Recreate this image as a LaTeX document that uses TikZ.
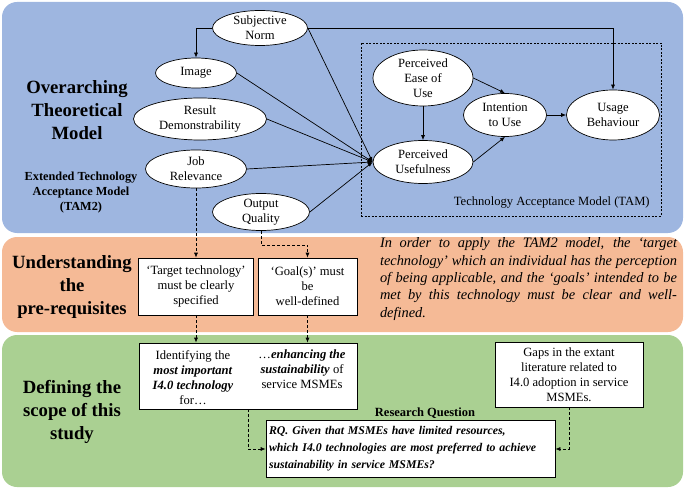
\documentclass[tikz,border=0pt]{standalone}
\usepackage{fontspec}
\setmainfont{Liberation Serif}
\usetikzlibrary{shapes.geometric,arrows.meta,positioning}
\definecolor{bandblue}{RGB}{158,182,224}
\definecolor{bandorange}{RGB}{245,186,150}
\definecolor{bandgreen}{RGB}{170,208,146}
\newcommand{\ellfont}{\fontsize{12.6}{15}\selectfont}
\newcommand{\headfont}{\bfseries\fontsize{18.7}{23}\selectfont}
\newcommand{\subheadfont}{\bfseries\fontsize{12.3}{15}\selectfont}
\newcommand{\parafont}{\itshape\fontsize{14.4}{17.3}\selectfont}
\newcommand{\rqfont}{\bfseries\itshape\fontsize{11.8}{17}\selectfont}
\tikzset
{
    tamnode/.style = {ellipse, draw=black, fill=white, align=center, inner xsep=0pt, inner ysep=-2pt, font=\ellfont},
    prebox/.style  = {rectangle, draw=black, fill=white, align=center, inner sep=0pt, font=\ellfont},
    heading/.style = {align=center, font=\headfont},
    link/.style    = {dash pattern=on 3pt off 2pt, ->}
}

\begin{document}
\begin{tikzpicture}[x=1pt, y=-1pt, line width=0.7pt, >={Latex[length=5pt,width=4pt]}]
\useasboundingbox (0,0) rectangle (685,489);

%% bands
\fill[bandblue, rounded corners=15pt]   (2,2)   rectangle (683,233);
\fill[bandorange, rounded corners=15pt] (2,237) rectangle (683,332);
\fill[bandgreen, rounded corners=15pt]  (2,335) rectangle (683,487);

%% headings
\node (hoverarch) [heading] 									at (77,110)     {Overarching\\Theoretical\\Model};
\node (htam2)     [align=center, font=\subheadfont] 			at (81,193)     {Extended Technology\\Acceptance Model\\(TAM2)};
\node (hpre)      [heading] 									at (72,287)     {Understanding\\the\\pre-requisites};
\node (hscope)    [heading] 									at (72,412)     {Defining the\\scope of this\\study};

%% TAM2
\node (tambox)	[draw=black, dash pattern=on 2pt off 1.5pt, line width=0.6pt, minimum width=300, minimum height=173] at (511,129.5) {};
\node (tamlabel) [font=\ellfont, anchor=south east]			at ([xshift=-8pt, yshift=4pt]tambox.south east) {Technology Acceptance Model (TAM)};

\node (sn)	[tamnode, minimum width=95, minimum height=35] 		at (260,28)     {Subjective\\Norm};
\node (img)	[tamnode, minimum width=81, minimum height=30] 		at (196,73)     {Image};
\node (rd)	[tamnode, minimum width=133, minimum height=42] 	at (200,119)    {Result\\Demonstrability};
\node (jr)	[tamnode, minimum width=101, minimum height=38] 	at (196,169)    {Job\\Relevance};
\node (oq)	[tamnode, minimum width=97, minimum height=37] 		at (261,212)    {Output\\Quality};
\node (peu)	[tamnode, minimum width=100, minimum height=56] 	at (423,78)     {Perceived\\Ease of\\Use};
\node (pu)	[tamnode, minimum width=100, minimum height=43] 	at (423,162)    {Perceived\\Usefulness};
\node (itu)	[tamnode, minimum width=83, minimum height=43] 		at (505,115)    {Intention\\to Use};
\node (ub)	[tamnode, minimum width=93, minimum height=50] 		at (613,115)    {Usage\\Behaviour};

\draw[->] (sn.west) -| (img.north);
\draw[->] (sn.east) -| (ub.north);
\path
(sn.east) 	edge[->] 	(pu.west)
(img.east) 	edge[->] 	(pu.west)
(rd.east) 	edge[->] 	(pu.west)
(jr.east) 	edge[->] 	(pu.west)
(oq.east) 	edge[->] 	(pu.west)
(peu) 		edge[->] 	(pu)
(peu.east) 	edge[->] 	(itu.north)
(pu.east) 	edge[->] 	(itu.south)
(itu) 		edge[->] 	(ub);

%% pre-requisites
\node (target)	[prebox, minimum width=115, minimum height=57] 	at (196,286.5)  {`Target technology'\\must be clearly\\specified};
\node (goal)	[prebox, minimum width=99, minimum height=57] 	at (307.5,286.5) {`Goal(s)' must\\be\\well-defined};
\node (prereqtext) [font=\parafont, text width=297, align=justify, inner sep=0pt] at (528.5,279)
	{In order to apply the TAM2 model, the `target\linebreak
	technology' which an individual has the perception\linebreak
	of being applicable, and the `goals' intended to be\linebreak
	met by this technology must be clear and well-\linebreak
	defined.};

\draw[link] (jr.south) -- (target.north);
\draw[link] (oq.south) -- ++(0,14) -| (goal.north);

%% scope
\node (idbox)	[prebox, minimum width=218, minimum height=66] 	at (248,376)    {};
\node (idl)		[align=center, font=\ellfont] 					at (193,377.5)  {Identifying the\\\textbf{\textit{most important}}\\\textbf{\textit{I4.0 technology}}\\for…};
\node (idr)		[align=center, font=\ellfont] 					at (302,369.5)  {…\textbf{\textit{enhancing the}}\\\textbf{\textit{sustainability}} of\\service MSMEs};
\node (gaps)	[prebox, minimum width=148, minimum height=65] 	at (569,374.5)  {Gaps in the extant\\literature related to\\I4.0 adoption in service\\MSMEs.};
\node (rq)		[prebox, minimum width=289, minimum height=57, text width=283, align=left, font=\rqfont] at (410.5,449)
	{RQ. Given that MSMEs have limited resources,\\which I4.0 technologies are most preferred to achieve\\sustainability in service MSMEs?};
\node (rqlabel)	[font=\bfseries\fontsize{12.5}{15}\selectfont] 	at (425,413)    {Research Question};

\draw[link] (target.south) -- (target.south |- idbox.north);
\draw[link] (goal.south) -- (goal.south |- idbox.north);
\draw[link] (idbox.south) |- (rq.west);
\draw[link] (gaps.south) |- (rq.east);

\end{tikzpicture}
\end{document}
